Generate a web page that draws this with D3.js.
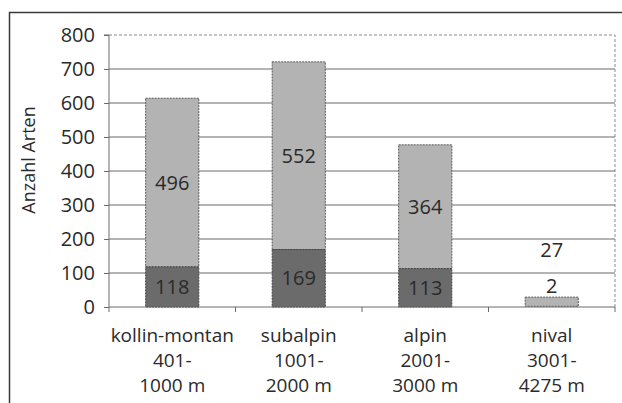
<!DOCTYPE html>
<html>
<head>
<meta charset="utf-8">
<script src="https://cdn.jsdelivr.net/npm/d3@7"></script>
<style>
  body { margin: 0; background: #fff; }
  text { font-family: "Open Sans", sans-serif; fill: #2a2a2a; }
</style>
</head>
<body>
<svg id="chart" width="622" height="403"></svg>
<script>

//////////////////////
// Data
//////////////////////
var categories = ["kollin-montan", "subalpin", "alpin", "nival"];
var catLines = [
    ["kollin-montan", "401-", "1000 m"],
    ["subalpin", "1001-", "2000 m"],
    ["alpin", "2001-", "3000 m"],
    ["nival", "3001-", "4275 m"]
];
var darkValues = [118, 169, 113, 2];
var lightValues = [496, 552, 364, 27];
var yTicks = [0, 100, 200, 300, 400, 500, 600, 700, 800];

//////////////////////
// Layout
//////////////////////
var svg = d3.select("#chart");
var plotLeft = 109, plotRight = 615, plotTop = 35, plotBottom = 307;

var x = d3.scaleBand().domain(categories).range([plotLeft, plotRight]).paddingInner(0.58).paddingOuter(0.29);
var y = d3.scaleLinear().domain([0, 800]).range([plotBottom, plotTop]);

// outer frame
svg.append("rect")
    .attr("x", 9.5).attr("y", 12.5)
    .attr("width", 700).attr("height", 500)
    .attr("fill", "none").attr("stroke", "#3a3a3a").attr("stroke-width", 1.5);

// gridlines
svg.append("g").selectAll("line")
    .data(yTicks.filter(function(d) { return d > 0 && d < 800; }))
    .enter().append("line")
        .attr("x1", plotLeft).attr("x2", plotRight)
        .attr("y1", function(d) { return y(d); })
        .attr("y2", function(d) { return y(d); })
        .attr("stroke", "#6a6a6a").attr("stroke-width", 1);

// top and right dashed border
svg.append("path")
    .attr("d", "M" + plotLeft + "," + y(800) + "H" + plotRight + "V" + plotBottom)
    .attr("fill", "none").attr("stroke", "#8a8a8a")
    .attr("stroke-dasharray", "3,2").attr("stroke-width", 1);

// bars
var stack = categories.map(function(c, i) {
    return { cat: c, dark: darkValues[i], light: lightValues[i] };
});

var bars = svg.append("g");
bars.selectAll("rect.light")
    .data(stack).enter().append("rect")
        .attr("class", "light")
        .attr("x", function(d) { return x(d.cat); })
        .attr("width", x.bandwidth())
        .attr("y", function(d) { return y(d.dark + d.light); })
        .attr("height", function(d) { return y(d.dark) - y(d.dark + d.light); })
        .attr("fill", "#b3b3b3")
        .attr("stroke", "#5a5a5a").attr("stroke-width", 1).attr("stroke-dasharray", "2,1");

bars.selectAll("rect.dark")
    .data(stack.filter(function(d) { return d.dark > 5; })).enter().append("rect")
        .attr("class", "dark")
        .attr("x", function(d) { return x(d.cat); })
        .attr("width", x.bandwidth())
        .attr("y", function(d) { return y(d.dark); })
        .attr("height", function(d) { return y(0) - y(d.dark); })
        .attr("fill", "#6b6b6b")
        .attr("stroke", "#444").attr("stroke-width", 1).attr("stroke-dasharray", "2,1");

// value labels
stack.forEach(function(d) {
    var cx = x(d.cat) + x.bandwidth() / 2;
    var total = d.dark + d.light;
    var yLight, yDark;
    if (total > 100) {
        yLight = y(d.dark + d.light / 2);
        yDark = y(d.dark / 2);
    } else {
        // labels don't fit, stack them above the bar
        yLight = y(total) - 47;
        yDark = y(total) - 11;
    }
    svg.append("text").attr("x", cx).attr("y", yLight).attr("dy", "0.36em")
        .attr("text-anchor", "middle").attr("font-size", 20).text(d.light);
    svg.append("text").attr("x", cx).attr("y", yDark).attr("dy", "0.36em")
        .attr("text-anchor", "middle").attr("font-size", 20).text(d.dark);
});

// y axis
var yAxis = svg.append("g")
    .attr("transform", "translate(" + plotLeft + ",0)")
    .call(d3.axisLeft(y).tickValues(yTicks).tickSize(5).tickPadding(9));
yAxis.select(".domain").attr("stroke", "#6a6a6a").attr("d", "M-5," + y(800) + "H0V" + plotBottom);
yAxis.selectAll(".tick line").attr("stroke", "#6a6a6a");
yAxis.selectAll(".tick text").attr("font-size", 20).attr("font-family", "Open Sans").attr("fill", "#2a2a2a");

// x axis
svg.append("line")
    .attr("x1", plotLeft).attr("x2", plotRight).attr("y1", plotBottom).attr("y2", plotBottom)
    .attr("stroke", "#6a6a6a");
svg.append("g").selectAll("line")
    .data(d3.range(categories.length + 1))
    .enter().append("line")
        .attr("x1", function(i) { return plotLeft + i * x.step(); })
        .attr("x2", function(i) { return plotLeft + i * x.step(); })
        .attr("y1", plotBottom).attr("y2", plotBottom + 5)
        .attr("stroke", "#6a6a6a");

// category labels
svg.append("g").selectAll("text")
    .data(catLines)
    .enter().append("text")
        .attr("text-anchor", "middle")
        .attr("font-size", 19)
        .attr("x", function(d, i) { return x(categories[i]) + x.bandwidth() / 2; })
        .attr("y", 342)
        .each(function(d) {
            var t = d3.select(this);
            d.forEach(function(line, j) {
                t.append("tspan")
                    .attr("x", t.attr("x"))
                    .attr("dy", j === 0 ? 0 : 25)
                    .text(line);
            });
        });

// y title
svg.append("text")
    .attr("transform", "translate(35,160) rotate(-90)")
    .attr("text-anchor", "middle")
    .attr("font-size", 18)
    .text("Anzahl Arten");

</script>
</body>
</html>
